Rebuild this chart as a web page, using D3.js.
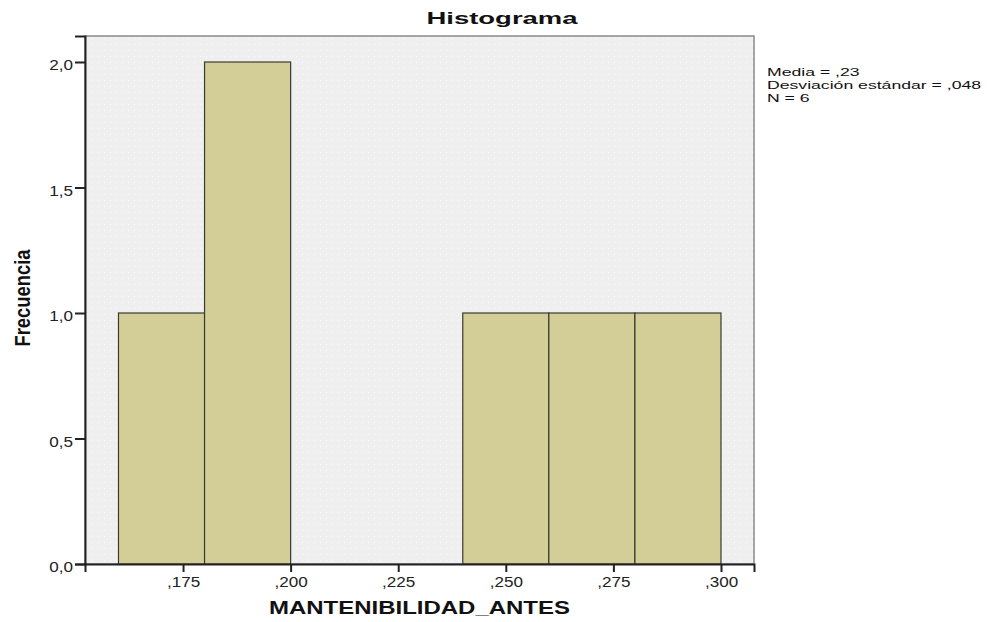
<!DOCTYPE html>
<html>
<head>
<meta charset="utf-8">
<script src="https://cdn.jsdelivr.net/npm/d3@7"></script>
<style>
  body { margin: 0; background: #fff; }
  text { font-family: "Liberation Sans", Arial, sans-serif; }
</style>
</head>
<body>
<svg id="chart" width="987" height="622"></svg>
<script>
// histogram bins (lower edge, upper edge) and frequencies
let binStarts = [0.16, 0.18, 0.20, 0.22, 0.24, 0.26, 0.28];
let binEnds = [0.18, 0.20, 0.22, 0.24, 0.26, 0.28, 0.30];
let counts = [1, 2, 0, 0, 1, 1, 1];
let xTicks = [0.175, 0.200, 0.225, 0.250, 0.275, 0.300];
let yTicks = [0, 0.5, 1.0, 1.5, 2.0];
let statLines = ["Media = ,23", "Desviación estándar = ,048", "N = 6"];

let svg = d3.select("#chart");
let plotLeft = 85, plotRight = 754, plotTop = 36, plotBottom = 564;

// the picture is a bit wider than tall, so text is stretched sideways
function stretch(sel, factor) {
    sel.each(function () {
        let w = this.getComputedTextLength();
        d3.select(this)
            .attr("textLength", w * factor)
            .attr("lengthAdjust", "spacingAndGlyphs");
    });
}

let xScale = d3.scaleLinear()
    .domain([0.15222, 0.30767])
    .range([plotLeft, plotRight]);
let yScale = d3.scaleLinear()
    .domain([0, 2.1036])
    .range([plotBottom, plotTop]);

// faint dotted background
let defs = svg.append("defs");
let pat = defs.append("pattern")
    .attr("id", "dots")
    .attr("width", 6).attr("height", 6)
    .attr("patternUnits", "userSpaceOnUse");
pat.append("rect").attr("width", 6).attr("height", 6).attr("fill", "#efefef");
pat.append("rect").attr("x", 2).attr("y", 2).attr("width", 1).attr("height", 1).attr("fill", "#fbfbfb");

svg.append("rect")
    .attr("x", plotLeft).attr("y", plotTop)
    .attr("width", plotRight - plotLeft).attr("height", plotBottom - plotTop)
    .attr("fill", "url(#dots)")
    .attr("stroke", "#8a8a8a")
    .attr("stroke-width", 1.5);

let bins = binStarts.map(function (s, i) {
    return { x0: s, x1: binEnds[i], n: counts[i] };
}).filter(function (d) { return d.n > 0; });

svg.append("g").selectAll("rect")
    .data(bins)
    .enter().append("rect")
    .attr("x", function (d) { return xScale(d.x0); })
    .attr("y", function (d) { return yScale(d.n); })
    .attr("width", function (d) { return xScale(d.x1) - xScale(d.x0); })
    .attr("height", function (d) { return yScale(0) - yScale(d.n); })
    .attr("fill", "#d3ce98")
    .attr("stroke", "#3a3a30")
    .attr("stroke-width", 1.2);

// axes
let xAxis = d3.axisBottom(xScale)
    .tickValues(xTicks)
    .tickSize(8)
    .tickPadding(5)
    .tickFormat(function (d) { return "," + d3.format(".3f")(d).split(".")[1]; });
let gx = svg.append("g")
    .attr("transform", "translate(0," + plotBottom + ")")
    .call(xAxis);

let yAxis = d3.axisLeft(yScale)
    .tickValues(yTicks)
    .tickSize(10)
    .tickPadding(2)
    .tickFormat(function (d) { return d3.format(".1f")(d).replace(".", ","); });
let gy = svg.append("g")
    .attr("transform", "translate(" + plotLeft + ",0)")
    .call(yAxis);
gy.selectAll(".tick text").attr("dy", "0.57em");

[gx, gy].forEach(function (g) {
    g.select(".domain").attr("stroke", "#222").attr("stroke-width", 2);
    g.selectAll(".tick line").attr("stroke", "#222").attr("stroke-width", 2);
    g.selectAll(".tick text")
        .attr("fill", "#222")
        .style("font-size", "14px")
        .style("font-family", "'Liberation Sans', Arial, sans-serif")
        .call(stretch, 1.22);
});

// titles
svg.append("text")
    .attr("x", 502).attr("y", 24)
    .attr("text-anchor", "middle")
    .style("font-size", "16px").style("font-weight", "bold")
    .attr("fill", "#111")
    .text("Histograma")
    .attr("textLength", 151)
    .attr("lengthAdjust", "spacingAndGlyphs");

svg.append("text")
    .attr("x", (plotLeft + plotRight) / 2).attr("y", 614)
    .attr("text-anchor", "middle")
    .style("font-size", "19px").style("font-weight", "bold")
    .attr("fill", "#111")
    .text("MANTENIBILIDAD_ANTES")
    .attr("textLength", 301)
    .attr("lengthAdjust", "spacingAndGlyphs");

svg.append("text")
    .attr("transform", "translate(30,298) rotate(-90)")
    .attr("text-anchor", "middle")
    .style("font-size", "22px").style("font-weight", "bold")
    .attr("fill", "#111")
    .text("Frecuencia")
    .attr("textLength", 97)
    .attr("lengthAdjust", "spacingAndGlyphs");

// statistics box
svg.append("g").selectAll("text")
    .data(statLines)
    .enter().append("text")
    .attr("x", 767)
    .attr("y", function (d, i) { return 76 + i * 13; })
    .style("font-size", "11.3px")
    .attr("fill", "#111")
    .text(function (d) { return d; })
    .call(stretch, 1.56);
</script>
</body>
</html>
